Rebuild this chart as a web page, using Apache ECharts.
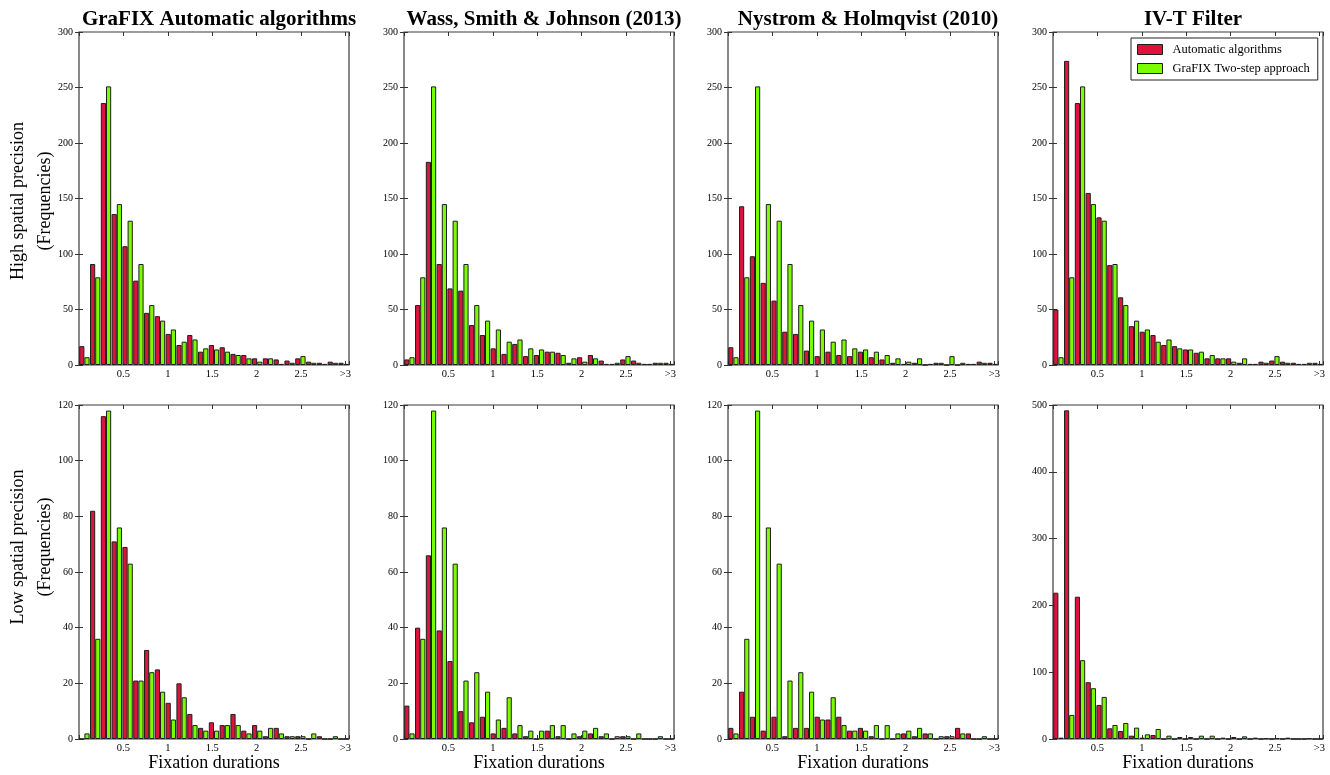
<!DOCTYPE html>
<html>
<head>
<meta charset="utf-8">
<script src="https://cdn.jsdelivr.net/npm/echarts@6/dist/echarts.min.js"></script>
<style>
html,body{margin:0;padding:0;background:#fff;}
#chart{width:1330px;height:775px;}
</style>
</head>
<body>
<div id="chart"></div>
<script>
// ---- DATA ----
const binStarts = ['0','0.12','0.24','0.36','0.48','0.6','0.72','0.84','0.96','1.08','1.2','1.32','1.44','1.56','1.68','1.8','1.92','2.04','2.16','2.28','2.4','2.52','2.64','2.76','2.88'];
const xTickValues = [0.5, 1, 1.5, 2, 2.5, 3];
const xTickLabels = ['0.5', '1', '1.5', '2', '2.5', '>3'];
const panelTitles = ['GraFIX Automatic algorithms', 'Wass, Smith & Johnson (2013)', 'Nystrom & Holmqvist (2010)', 'IV-T Filter'];
const rowNames = ['High spatial precision\n(Frequencies)', 'Low spatial precision\n(Frequencies)'];
const seriesNames = ['Automatic algorithms', 'GraFIX Two-step approach'];

// High spatial precision
const grafixTwoStepHigh = [7, 79, 251, 145, 130, 91, 54, 40, 32, 21, 23, 15, 14, 12, 9, 6, 3, 6, 1, 2, 8, 2, 1, 2, 1];
const autoGrafixHigh    = [17, 91, 236, 136, 107, 76, 47, 44, 28, 18, 27, 12, 18, 16, 10, 9, 6, 6, 5, 4, 6, 3, 2, 3, 2];
const autoWassHigh      = [5, 54, 183, 91, 69, 67, 36, 27, 15, 10, 19, 8, 9, 12, 11, 2, 7, 9, 4, 1, 5, 4, 1, 2, 2];
const autoNystromHigh   = [16, 143, 98, 74, 58, 30, 28, 13, 8, 12, 9, 8, 12, 7, 5, 2, 1, 2, 0, 2, 0, 0, 1, 3, 2];
const autoIvtHigh       = [50, 274, 236, 155, 133, 90, 61, 35, 30, 27, 18, 17, 14, 11, 6, 6, 6, 2, 1, 3, 4, 3, 2, 1, 2];

// Low spatial precision
const grafixTwoStepLow  = [2, 36, 118, 76, 63, 21, 24, 17, 7, 15, 5, 3, 3, 5, 5, 2, 3, 4, 2, 1, 1, 2, 0, 1, 0];
const autoGrafixLow     = [0, 82, 116, 71, 69, 21, 32, 25, 13, 20, 9, 4, 6, 5, 9, 3, 5, 1, 4, 1, 1, 0, 1, 0, 0];
const autoWassLow       = [12, 40, 66, 39, 28, 10, 6, 8, 2, 4, 2, 1, 0, 3, 1, 0, 1, 2, 1, 0, 1, 0, 0, 0, 0];
const autoNystromLow    = [4, 17, 8, 3, 8, 1, 4, 4, 8, 7, 8, 3, 4, 1, 0, 0, 2, 1, 2, 0, 1, 4, 2, 0, 0];
const autoIvtLow        = [219, 492, 213, 85, 51, 16, 12, 5, 2, 6, 0, 0, 0, 0, 0, 0, 0, 0, 0, 0, 0, 0, 0, 0, 0];

// y-axis ranges per panel
const yMaxHigh = [300, 300, 300, 300];
const yStepHigh = [50, 50, 50, 50];
const yMaxLow = [120, 120, 120, 500];
const yStepLow = [20, 20, 20, 100];

// ---- LAYOUT ----
const SERIF = '"Liberation Serif", "DejaVu Serif", serif';
const RED = '#DC143C';
const GREEN = '#7CFC00';
const EDGE = '#1e1e1e';
const lefts = [79, 404, 728, 1053];
const W = 270;
const tops = [32, 405];
const Hs = [333, 334];
const rowLabelY = [201, 547];

const panels = [
  {row:0, col:0, auto:autoGrafixHigh,  ref:grafixTwoStepHigh, ymax:yMaxHigh[0], step:yStepHigh[0]},
  {row:0, col:1, auto:autoWassHigh,    ref:grafixTwoStepHigh, ymax:yMaxHigh[1], step:yStepHigh[1]},
  {row:0, col:2, auto:autoNystromHigh, ref:grafixTwoStepHigh, ymax:yMaxHigh[2], step:yStepHigh[2]},
  {row:0, col:3, auto:autoIvtHigh,     ref:grafixTwoStepHigh, ymax:yMaxHigh[3], step:yStepHigh[3]},
  {row:1, col:0, auto:autoGrafixLow,   ref:grafixTwoStepLow,  ymax:yMaxLow[0], step:yStepLow[0]},
  {row:1, col:1, auto:autoWassLow,     ref:grafixTwoStepLow,  ymax:yMaxLow[1], step:yStepLow[1]},
  {row:1, col:2, auto:autoNystromLow,  ref:grafixTwoStepLow,  ymax:yMaxLow[2], step:yStepLow[2]},
  {row:1, col:3, auto:autoIvtLow,      ref:grafixTwoStepLow,  ymax:yMaxLow[3], step:yStepLow[3]}
];

function xFmt(v) {
  for (let k = 0; k < xTickValues.length; k++) {
    if (Math.abs(v - xTickValues[k]) < 1e-9) return xTickLabels[k];
  }
  return '';
}

const tickStyle = {inside:true, length:4, lineStyle:{color:'#333', width:1}};
const grids = [], xAxes = [], yAxes = [], series = [];

panels.forEach((p, i) => {
  grids.push({left:lefts[p.col], top:tops[p.row], width:W, height:Hs[p.row],
    show:true, borderColor:'#3a3a3a', borderWidth:1.2, backgroundColor:'#fff', containLabel:false});
  const catIdx = xAxes.length;
  xAxes.push({type:'category', gridIndex:i, data:binStarts, show:false});
  xAxes.push({type:'value', gridIndex:i, position:'bottom', min:0, max:3.04, interval:0.5,
    axisLine:{show:false}, axisTick:tickStyle, splitLine:{show:false},
    axisLabel:{formatter:xFmt, fontFamily:SERIF, fontSize:10.5, color:'#000', margin:4},
    name: p.row === 1 ? 'Fixation durations' : '', nameLocation:'middle', nameGap:15,
    nameMoveOverlap:false,
    nameTextStyle:{fontFamily:SERIF, fontSize:18, color:'#000'}});
  xAxes.push({type:'value', gridIndex:i, position:'top', min:0, max:3.04, interval:0.5,
    axisLine:{show:false}, axisTick:tickStyle, splitLine:{show:false}, axisLabel:{show:false}});
  const yIdx = yAxes.length;
  yAxes.push({type:'value', gridIndex:i, position:'left', min:0, max:p.ymax, interval:p.step,
    axisLine:{show:false}, axisTick:tickStyle, splitLine:{show:false},
    axisLabel:{fontFamily:SERIF, fontSize:10, color:'#000', margin:6}});
  yAxes.push({type:'value', gridIndex:i, position:'right', min:0, max:p.ymax, interval:p.step,
    axisLine:{show:false}, axisTick:tickStyle, splitLine:{show:false}, axisLabel:{show:false}});
  series.push({type:'bar', name:seriesNames[0], xAxisIndex:catIdx, yAxisIndex:yIdx, data:p.auto,
    barGap:'0%', barCategoryGap:'4%', itemStyle:{color:RED, borderColor:EDGE, borderWidth:1}, silent:true});
  series.push({type:'bar', name:seriesNames[1], xAxisIndex:catIdx, yAxisIndex:yIdx, data:p.ref,
    barGap:'0%', barCategoryGap:'4%', itemStyle:{color:GREEN, borderColor:EDGE, borderWidth:1}, silent:true});
});

const titles = panelTitles.map((t, c) => ({
  text:t, left: lefts[c] + W / 2, top:4, textAlign:'center',
  textStyle:{fontFamily:SERIF, fontSize:21, fontWeight:'bold', color:'#000'}
}));

const graphics = rowNames.map((t, r) => ({
  type:'text', x:32, y: rowLabelY[r], rotation: Math.PI / 2,
  style:{text:t, fontFamily:SERIF, fontSize:18, fill:'#000', align:'center', verticalAlign:'middle',
    textAlign:'center', textVerticalAlign:'middle', lineHeight:27}
}));

const chart = echarts.init(document.getElementById('chart'), null, {renderer:'canvas'});
chart.setOption({
  animation:false,
  backgroundColor:'#fff',
  title:titles,
  legend:{data:seriesNames, orient:'vertical', left:1131, top:38,
    backgroundColor:'#fff', borderColor:'#222', borderWidth:1, padding:[4, 8, 4, 6],
    itemWidth:25, itemHeight:10, itemGap:4, icon:'rect',
    itemStyle:{borderColor:EDGE, borderWidth:1},
    textStyle:{fontFamily:SERIF, fontSize:12.5, color:'#000', lineHeight:15, padding:[0,0,0,5]}},
  grid:grids,
  xAxis:xAxes,
  yAxis:yAxes,
  series:series,
  graphic:graphics
});
</script>
</body>
</html>
